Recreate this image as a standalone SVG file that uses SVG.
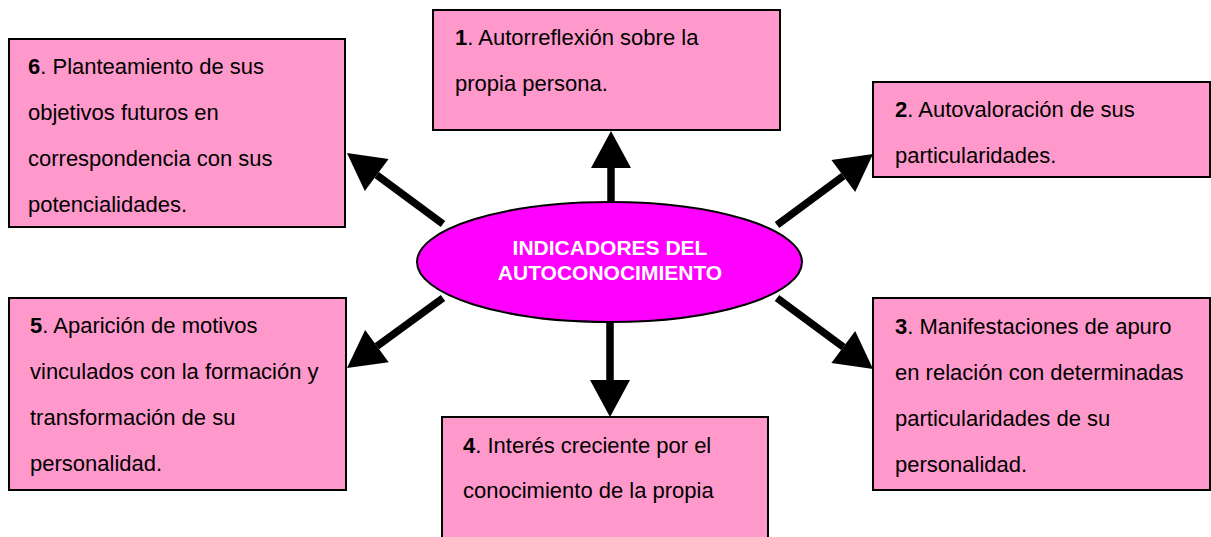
<svg xmlns="http://www.w3.org/2000/svg" width="1211" height="537" viewBox="0 0 1211 537">
<defs>
<style>
.box{fill:#FF99CC;stroke:#000;stroke-width:2}
.t{font-family:"Liberation Sans",Arial,sans-serif;font-size:22px;fill:#000}
.b{font-weight:bold}
.c{fill:none;stroke:#000;stroke-width:7.5;marker-end:url(#ah)}
.hub{fill:#FF00FF;stroke:#000;stroke-width:2}
.ht{font-family:"Liberation Sans",Arial,sans-serif;font-size:21px;font-weight:bold;fill:#fff;text-anchor:middle}
</style>
<marker id="ah" markerUnits="userSpaceOnUse" viewBox="0 -20 38 40" markerWidth="38" markerHeight="40" refX="0" refY="0" orient="auto" overflow="visible">
<path d="M0,-20 L37,0 L0,20 z" fill="#000"/>
</marker>
</defs>
<rect width="1211" height="537" fill="#fff"/>
<g id="connectors">
<line class="c" x1="611" y1="204" x2="611" y2="168"/>
<line class="c" x1="610" y1="320" x2="610" y2="380"/>
<line class="c" x1="777" y1="225" x2="843.3" y2="176"/>
<line class="c" x1="777" y1="298" x2="843.3" y2="347"/>
<line class="c" x1="443" y1="224" x2="376.7" y2="175"/>
<line class="c" x1="443" y1="298" x2="376.9" y2="346.2"/>
</g>
<g id="hub">
<ellipse class="hub" cx="609.5" cy="262" rx="192.5" ry="60"/>
<text class="ht" x="610" y="255">INDICADORES DEL</text>
<text class="ht" x="610" y="280">AUTOCONOCIMIENTO</text>
</g>
<g id="n1">
<rect class="box" x="433" y="10" width="347" height="120"/>
<text class="t" x="455" y="45"><tspan class="b">1</tspan>. Autorreflexión sobre la</text>
<text class="t" x="455" y="91">propia persona.</text>
</g>
<g id="n2">
<rect class="box" x="873" y="82" width="337" height="95"/>
<text class="t" x="895" y="117"><tspan class="b">2</tspan>. Autovaloración de sus</text>
<text class="t" x="895" y="163">particularidades.</text>
</g>
<g id="n3">
<rect class="box" x="873" y="298" width="337" height="192"/>
<text class="t" x="895" y="334"><tspan class="b">3</tspan>. Manifestaciones de apuro</text>
<text class="t" x="895" y="380">en relación con determinadas</text>
<text class="t" x="895" y="426">particularidades de su</text>
<text class="t" x="895" y="472">personalidad.</text>
</g>
<g id="n4">
<rect class="box" x="442" y="417" width="326" height="130"/>
<text class="t" x="463" y="453"><tspan class="b">4</tspan>. Interés creciente por el</text>
<text class="t" x="463" y="498">conocimiento de la propia</text>
</g>
<g id="n5">
<rect class="box" x="9" y="298" width="337" height="192"/>
<text class="t" x="30" y="333"><tspan class="b">5</tspan>. Aparición de motivos</text>
<text class="t" x="30" y="379">vinculados con la formación y</text>
<text class="t" x="30" y="425">transformación de su</text>
<text class="t" x="30" y="471">personalidad.</text>
</g>
<g id="n6">
<rect class="box" x="9" y="39" width="336" height="188"/>
<text class="t" x="28" y="74"><tspan class="b">6</tspan>. Planteamiento de sus</text>
<text class="t" x="28" y="120">objetivos futuros en</text>
<text class="t" x="28" y="166">correspondencia con sus</text>
<text class="t" x="28" y="212">potencialidades.</text>
</g>
</svg>
